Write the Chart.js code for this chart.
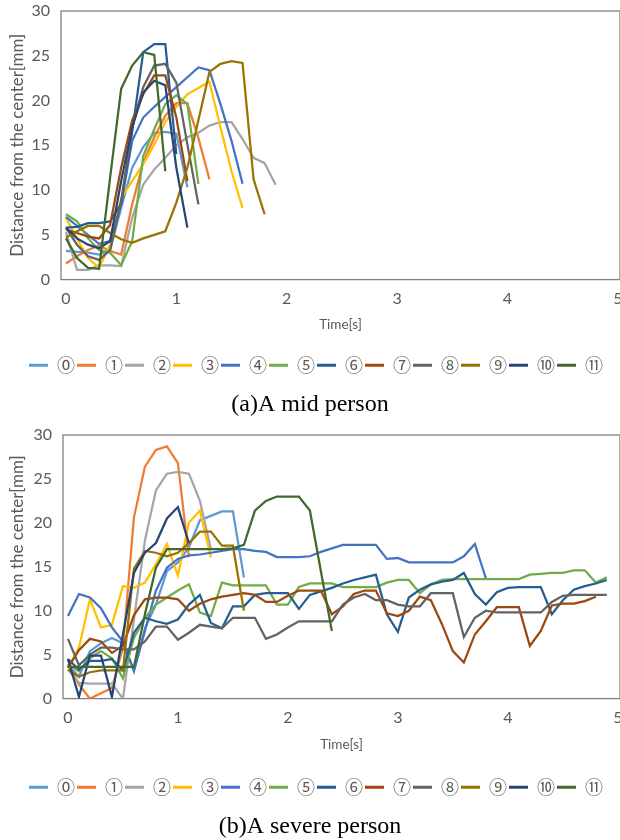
<!DOCTYPE html>
<html>
<head>
<meta charset="utf-8">
<script src="https://cdn.jsdelivr.net/npm/chart.js@4.4.1/dist/chart.umd.min.js"></script>
<style>
  body { margin: 0; background: #fff; }
  canvas { display: block; }
</style>
</head>
<body>
<canvas id="chartMid" width="620" height="420"></canvas>
<canvas id="chartSevere" width="620" height="420"></canvas>
<script>
// sampling times [s]
var time = [0, 0.1, 0.2, 0.3, 0.4, 0.5, 0.6, 0.7, 0.8, 0.9, 1, 1.1, 1.2, 1.3, 1.4, 1.5, 1.6, 1.7, 1.8, 1.9,
            2, 2.1, 2.2, 2.3, 2.4, 2.5, 2.6, 2.7, 2.8, 2.9, 3, 3.1, 3.2, 3.3, 3.4, 3.5, 3.6, 3.7, 3.8, 3.9,
            4, 4.1, 4.2, 4.3, 4.4, 4.5, 4.6, 4.7, 4.8, 4.9];
var seriesNames = ['⓪', '①', '②', '③', '④', '⑤', '⑥', '⑦', '⑧', '⑨', '⑩', '⑪'];
var seriesColors = ['#5B9BD5', '#ED7D31', '#A5A5A5', '#FFC000', '#4472C4', '#70AD47',
                    '#255E91', '#9E480E', '#636363', '#997300', '#264478', '#43682B'];
var xTicks = [0, 1, 2, 3, 4, 5];
var yTicks = [0, 5, 10, 15, 20, 25, 30];

// (a) A mid person
var mid0 = [3.2, 3.1, 3.0, 2.8, 3.3, 8.0, 12.5, 14.8, 16.4, 16.5, 16.3, 10.3];
var mid1 = [1.8, 2.6, 3.3, 3.8, 3.2, 2.8, 8.4, 13.1, 15.9, 18.3, 19.7, 19.7, 15.8, 11.2];
var mid2 = [5.3, 1.1, 1.1, 1.6, 1.6, 1.5, 6.9, 10.6, 12.3, 13.6, 15.0, 15.9, 16.4, 17.2, 17.6, 17.6, 15.7, 13.6, 13.0, 10.6];
var mid3 = [6.9, 4.6, 2.4, 1.3, 3.9, 9.1, 11.0, 12.9, 15.1, 17.6, 19.3, 20.7, 21.4, 22.1, 17.0, 12.1, 8.0];
var mid4 = [7.0, 6.0, 5.0, 4.0, 4.3, 8.4, 15.5, 18.1, 19.3, 20.4, 21.5, 22.6, 23.7, 23.4, 19.6, 15.5, 10.7];
var mid5 = [7.3, 6.5, 4.6, 3.3, 3.0, 1.6, 4.3, 13.8, 16.8, 19.6, 20.6, 19.6, 10.7];
var mid6 = [5.8, 5.9, 6.3, 6.3, 6.5, 8.5, 16.5, 25.4, 26.3, 26.3, 14.0];
var mid7 = [5.6, 5.2, 4.8, 4.6, 6.1, 12.5, 17.8, 20.7, 22.8, 22.8, 18.1, 11.0];
var mid8 = [5.8, 3.9, 2.6, 2.2, 3.3, 8.8, 17.0, 21.5, 23.9, 24.1, 22.0, 15.1, 8.4];
var mid9 = [4.7, 5.4, 6.0, 6.0, 5.2, 4.5, 4.1, 4.6, 5.0, 5.4, 8.6, 12.5, 17.8, 23.2, 24.1, 24.4, 24.2, 11.2, 7.3];
var mid10 = [5.8, 4.6, 3.9, 3.5, 4.3, 11.0, 17.0, 20.9, 22.2, 21.7, 12.5, 5.8];
var mid11 = [4.6, 2.4, 1.3, 1.2, 11.4, 21.3, 23.9, 25.4, 25.1, 12.1];

// (b) A severe person
var sev0 = [3.8, 2.5, 5.4, 6.3, 6.9, 6.3, 3.3, 8.0, 10.7, 14.5, 15.5, 17.2, 20.3, 20.8, 21.3, 21.3, 13.8];
var sev1 = [3.9, 1.6, 0.0, 0.6, 1.2, 5.8, 20.6, 26.4, 28.3, 28.7, 26.8, 16.1];
var sev2 = [3.3, 1.8, 1.7, 1.7, 1.7, 0.0, 9.0, 18.0, 23.7, 25.6, 25.8, 25.6, 22.5, 17.0];
var sev3 = [3.5, 5.8, 11.3, 8.1, 8.4, 12.8, 12.6, 13.2, 15.3, 17.6, 14.0, 20.0, 21.4, 16.1];
var sev4 = [9.4, 11.9, 11.5, 10.3, 8.1, 6.5, 3.1, 7.7, 12.3, 14.9, 15.9, 16.3, 16.4, 16.6, 16.8, 17.0, 17.0, 16.8, 16.7, 16.1,
            16.1, 16.1, 16.2, 16.7, 17.1, 17.5, 17.5, 17.5, 17.5, 15.9, 16.0, 15.5, 15.5, 15.5, 15.5, 15.5, 16.2, 17.6, 13.7];
var sev5 = [3.9, 3.1, 4.6, 5.4, 4.6, 2.3, 6.9, 9.2, 10.7, 11.5, 12.3, 13.0, 9.8, 9.4, 13.2, 12.9, 12.9, 12.9, 12.9, 10.7,
            10.7, 12.7, 13.1, 13.1, 13.1, 12.7, 12.7, 12.7, 12.7, 13.2, 13.5, 13.5, 12.0, 13.0, 13.5, 13.6, 13.6, 13.6, 13.6, 13.6,
            13.6, 13.6, 14.1, 14.2, 14.3, 14.3, 14.6, 14.6, 13.2, 13.8];
var sev6 = [4.5, 3.3, 4.3, 4.3, 4.5, 3.2, 7.5, 9.2, 8.8, 8.5, 9.0, 10.7, 11.8, 8.6, 8.0, 10.5, 10.5, 11.8, 12.0, 12.0,
            12.0, 10.2, 11.8, 12.2, 12.6, 13.1, 13.5, 13.8, 14.1, 9.6, 7.6, 11.5, 12.4, 13.0, 13.3, 13.5, 14.3, 11.9, 10.7, 12.1,
            12.6, 12.7, 12.7, 12.7, 9.6, 11.2, 12.4, 12.8, 13.1, 13.5];
var sev7 = [3.5, 5.5, 6.8, 6.5, 5.2, 6.0, 9.5, 11.3, 11.5, 11.5, 11.3, 10.0, 10.8, 11.3, 11.6, 11.8, 12.0, 11.8, 11.0, 11.0,
            11.7, 12.3, 12.3, 12.3, 9.6, 10.5, 11.9, 12.3, 12.3, 9.7, 9.4, 10.0, 11.6, 11.2, 8.5, 5.4, 4.1, 7.3, 8.8, 10.4,
            10.4, 10.4, 6.0, 7.7, 10.6, 10.8, 10.8, 11.1, 11.6];
var sev8 = [6.8, 3.8, 5.0, 5.8, 5.8, 5.6, 5.6, 6.5, 8.2, 8.2, 6.7, 7.5, 8.4, 8.2, 8.0, 9.2, 9.2, 9.2, 6.8, 7.3,
            8.1, 8.8, 8.8, 8.8, 8.8, 10.7, 11.5, 11.9, 11.2, 11.2, 10.7, 10.5, 10.5, 12.0, 12.0, 12.0, 7.0, 9.2, 10.0, 9.8,
            9.8, 9.8, 9.8, 9.8, 11.0, 11.7, 11.8, 11.8, 11.8, 11.8];
var sev9 = [3.3, 2.5, 3.0, 3.2, 3.2, 3.2, 14.8, 16.8, 16.6, 16.2, 16.6, 17.7, 19.0, 19.0, 17.4, 17.4, 10.0];
var sev10 = [4.5, 0.2, 4.9, 4.9, 0.2, 7.3, 14.3, 16.6, 17.7, 20.5, 21.8, 17.7];
var sev11 = [3.6, 3.6, 3.6, 3.6, 3.6, 3.6, 3.6, 9.6, 14.9, 17.0, 17.0, 17.0, 17.0, 17.0, 17.0, 17.1, 17.5, 21.4, 22.5, 23.0,
             23.0, 23.0, 21.4, 14.5, 7.7];

var midSeries = [mid0, mid1, mid2, mid3, mid4, mid5, mid6, mid7, mid8, mid9, mid10, mid11];
var severeSeries = [sev0, sev1, sev2, sev3, sev4, sev5, sev6, sev7, sev8, sev9, sev10, sev11];

var textColor = '#595959';
var sansFont = "Lato, 'Liberation Sans', sans-serif";

// box round the plot area
var framePlugin = {
    id: 'frame',
    beforeDatasetsDraw: function(chart) {
        var a = chart.chartArea;
        var ctx = chart.ctx;
        ctx.save();
        ctx.strokeStyle = '#808080';
        ctx.lineWidth = 1.3;
        ctx.strokeRect(a.left, a.top, a.right - a.left, a.bottom - a.top);
        ctx.restore();
    }
};

// nudge the legend a little to the right, like the original
var legendShift = {
    id: 'legendShift',
    afterLayout: function(chart) {
        chart.legend.left += 6;
        chart.legend.right += 6;
    }
};

function drawChart(id, series, caption, s) {
    var datasets = series.map(function(values, i) {
        return {
            label: seriesNames[i],
            data: values,
            borderColor: seriesColors[i],
            backgroundColor: seriesColors[i],
            borderWidth: 2.25,
            pointRadius: 0,
            tension: 0,
            order: series.length - i
        };
    });

    var ctx = document.getElementById(id).getContext('2d');
    return new Chart(ctx, {
        type: 'line',
        data: { labels: time, datasets: datasets },
        plugins: [framePlugin, legendShift],
        options: {
            responsive: false,
            animation: false,
            events: [],
            layout: { padding: { top: s.top, left: 0, right: 0, bottom: s.bottom } },
            scales: {
                x: {
                    type: 'linear',
                    min: -0.045,
                    max: 5.02,
                    afterBuildTicks: function(sc) { sc.ticks = xTicks.map(function(v) { return { value: v }; }); },
                    afterFit: function(sc) { sc.paddingRight = 0; sc.paddingLeft = 0; sc.height = s.xHeight; },
                    grid: { display: false, drawTicks: false },
                    border: { display: false },
                    ticks: { color: textColor, font: { family: sansFont, size: 16 }, padding: 10, maxRotation: 0 },
                    title: {
                        display: true, text: 'Time[s]', color: textColor,
                        font: { family: sansFont, size: 13.5 },
                        padding: { top: 8, bottom: s.xTitlePad }
                    }
                },
                y: {
                    min: 0,
                    max: 30,
                    afterBuildTicks: function(sc) { sc.ticks = yTicks.map(function(v) { return { value: v }; }); },
                    afterFit: function(sc) { sc.width = s.yWidth; sc.paddingTop = 0; sc.paddingBottom = 0; },
                    grid: { display: false, drawTicks: false },
                    border: { display: false },
                    ticks: { color: textColor, font: { family: sansFont, size: 16 }, padding: 11 },
                    title: {
                        display: true, text: 'Distance from the center[mm]', color: textColor,
                        font: { family: sansFont, size: 17 },
                        padding: { top: 7.8, bottom: 5 }
                    }
                }
            },
            plugins: {
                legend: {
                    position: 'bottom',
                    align: 'center',
                    labels: {
                        boxWidth: 19,
                        boxHeight: 3,
                        padding: 2,
                        color: textColor,
                        font: { family: "'Noto Sans CJK JP', sans-serif", size: 18 },
                        sort: function(a, b) { return a.datasetIndex - b.datasetIndex; },
                        generateLabels: function(chart) {
                            return Chart.defaults.plugins.legend.labels.generateLabels(chart).map(function(l) {
                                l.lineWidth = 0;
                                return l;
                            });
                        }
                    }
                },
                title: {
                    display: true,
                    position: 'bottom',
                    text: caption,
                    color: '#000',
                    font: { family: "'Liberation Serif', 'Times New Roman', serif", size: 24, weight: 'normal', lineHeight: 1 },
                    padding: { top: 8.7, bottom: 0 }
                },
                tooltip: { enabled: false }
            }
        }
    });
}

drawChart('chartMid', midSeries, '(a)A mid person', { top: 11, bottom: 3, xHeight: 74.7, xTitlePad: 21.6, yWidth: 61 });
drawChart('chartSevere', severeSeries, '(b)A severe person', { top: 15, bottom: 1, xHeight: 77.7, xTitlePad: 23.6, yWidth: 63 });
</script>
</body>
</html>
